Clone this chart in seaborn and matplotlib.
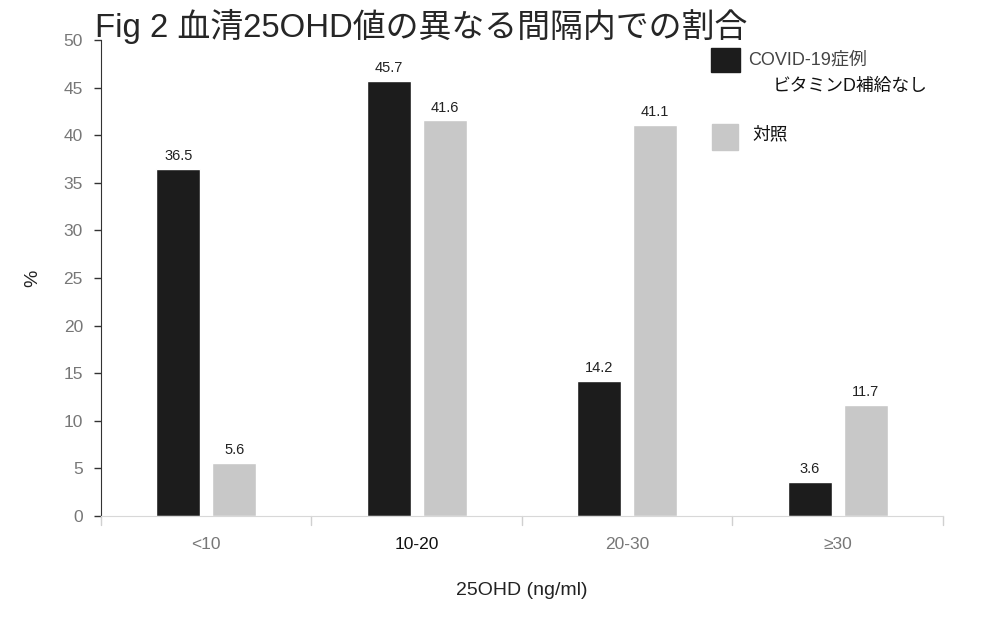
import pandas as pd
import matplotlib.pyplot as plt
import seaborn as sns
from matplotlib.patches import Rectangle

# Données
categories = ["<10", "10-20", "20-30", "≥30"]
covid_values = [36.5, 45.7, 14.2, 3.6]
control_values = [5.6, 41.6, 41.1, 11.7]
group_names = ["COVID-19症例", "対照"]

df = pd.DataFrame(
    {
        "cat": categories * 2,
        "val": covid_values + control_values,
        "group": [group_names[0]] * 4 + [group_names[1]] * 4,
    }
)

sns.set_style("white")
plt.rcParams["font.family"] = ["Liberation Sans", "Noto Sans CJK JP", "DejaVu Sans"]

fig = plt.figure(figsize=(9.83, 6.27), dpi=100)
ax = fig.add_axes([0.1027, 0.177, 0.8566, 0.759])

sns.barplot(
    data=df,
    x="cat",
    y="val",
    hue="group",
    order=categories,
    hue_order=group_names,
    palette=["#1c1c1c", "#c8c8c8"],
    width=0.533,
    gap=0.21,
    legend=False,
    ax=ax,
)

# Étiquettes des valeurs
for cont in ax.containers:
    ax.bar_label(cont, fmt="%.1f", padding=4, fontsize=10.5, color="#222222")

ax.set_ylim(0, 50)
ax.set_xlim(-0.5, 3.5)
ax.set_yticks(range(0, 51, 5))
ax.tick_params(axis="y", labelsize=12.5, labelcolor="#777777", color="#333333",
               length=5, width=1, left=True, direction="out", pad=8)
ax.tick_params(axis="x", labelsize=12.5, labelcolor="#777777", length=0, pad=15)
for lbl in ax.get_xticklabels():
    if lbl.get_text() == "10-20":
        lbl.set_color("#111111")

# Séparateurs de catégories sous l'axe
for b in [-0.5, 0.5, 1.5, 2.5, 3.5]:
    ax.plot([b, b], [0, -0.018], transform=ax.get_xaxis_transform(),
            color="#d0d0d0", lw=1, clip_on=False)

sns.despine(ax=ax, top=True, right=True)
ax.spines["left"].set_color("#333333")
ax.spines["bottom"].set_color("#d8d8d8")
ax.grid(False)

ax.set_xlabel("25OHD (ng/ml)", fontsize=14, color="#222222", labelpad=22)
ax.set_ylabel("%", fontsize=14, color="#222222", labelpad=16)

# Titre
fig.text(0.097, 1 - 37 / 627, "Fig 2 血清25OHD値の異なる間隔内での割合",
         fontsize=23.7, family=["Liberation Sans", "Noto Sans CJK JP"], va="baseline")

# Légende manuelle
fig.add_artist(Rectangle((711 / 983, 1 - 72 / 627), 29 / 983, 24 / 627,
                         transform=fig.transFigure, color="#1c1c1c"))
fig.add_artist(Rectangle((712 / 983, 1 - 150 / 627), 26 / 983, 26 / 627,
                         transform=fig.transFigure, color="#c8c8c8"))
leg_font = ["Liberation Sans", "Noto Sans CJK JP"]
fig.text(748 / 983, 1 - 60 / 627, "COVID-19症例", fontsize=13, color="#444444",
         family=leg_font, va="center")
fig.text(773 / 983, 1 - 86 / 627, "ビタミンD補給なし", fontsize=12.8, color="#111111",
         family=leg_font, va="center")
fig.text(752 / 983, 1 - 135 / 627, "対照", fontsize=12.8, color="#111111",
         family=leg_font, va="center")

fig.savefig("out.png", dpi=100)
